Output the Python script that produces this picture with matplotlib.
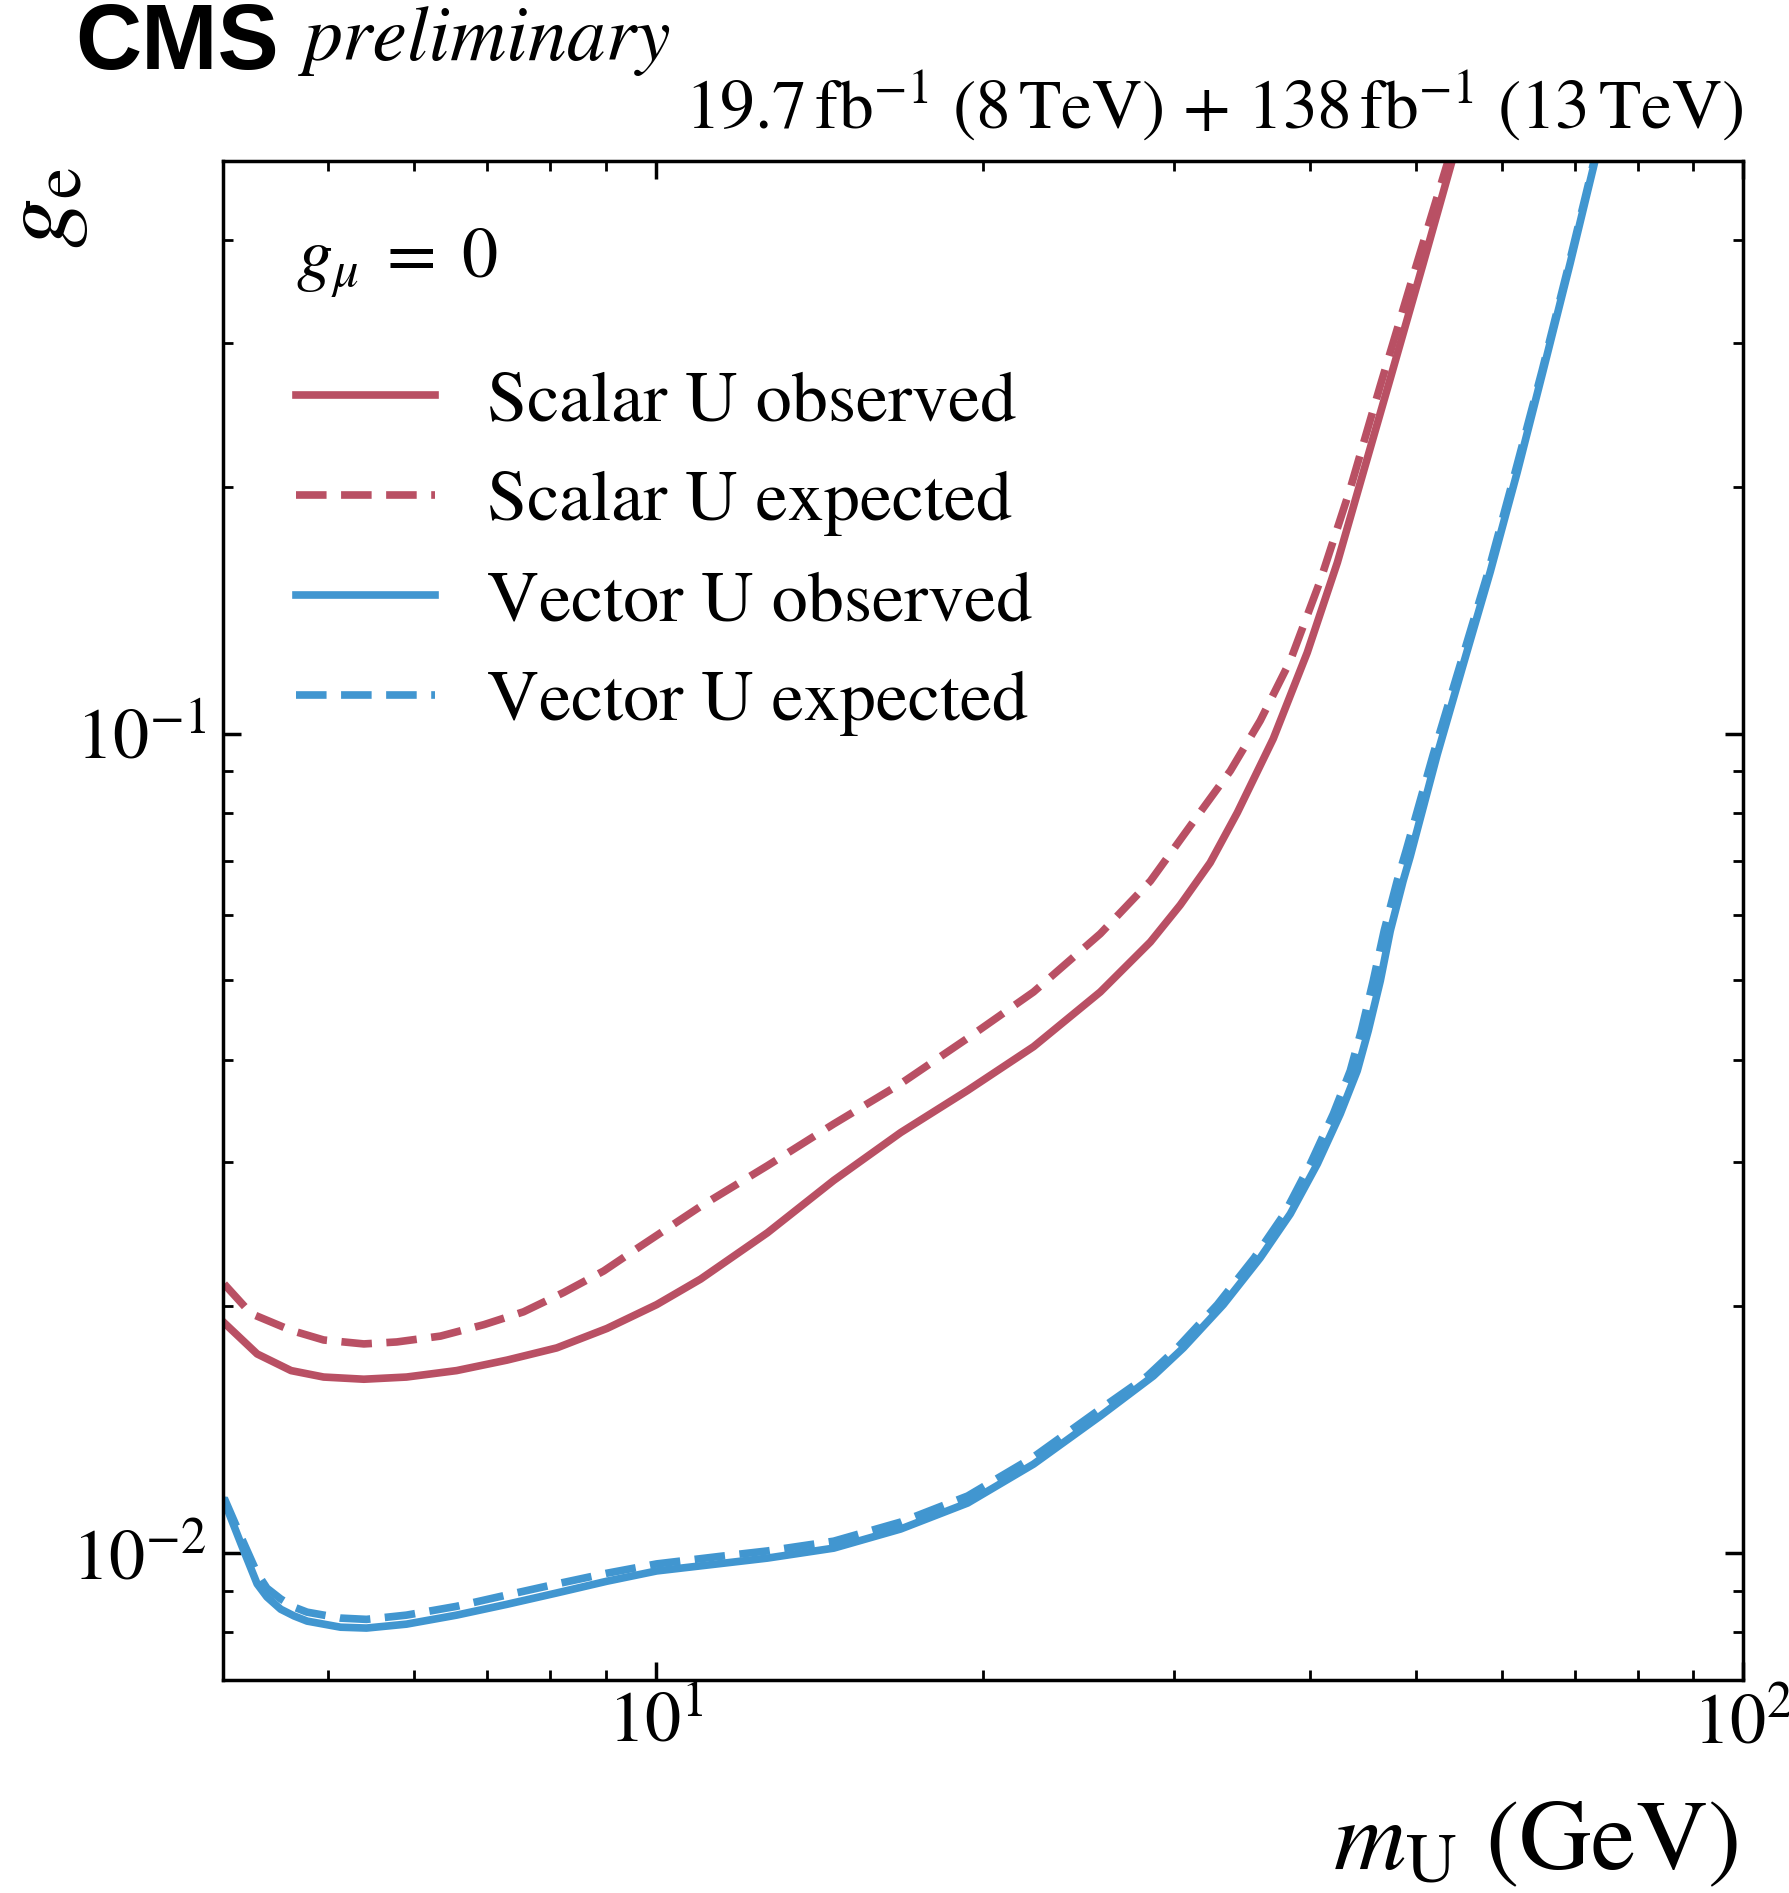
import matplotlib
matplotlib.use("Agg")
import matplotlib.pyplot as plt
from matplotlib.ticker import LogLocator, NullFormatter

plt.rcParams['font.family'] = ['STIXGeneral', 'DejaVu Serif']
plt.rcParams['mathtext.fontset'] = 'stix'

# ---------------- data ----------------
scalar_obs_m = [4.01, 4.30, 4.62, 4.95, 5.39, 5.90, 6.56, 7.30, 8.11, 9.02, 10.02,
                11.0, 12.67, 14.58, 16.80, 19.36, 22.26, 25.64, 28.51, 30.37, 32.36,
                34.27, 36.98, 39.74, 42.36, 44.74, 47.38, 50.80, 54.02]
scalar_obs_g = [0.0191, 0.0175, 0.0167, 0.0164, 0.0163, 0.0164, 0.0167, 0.0172, 0.0178,
                0.0188, 0.0201, 0.0216, 0.0246, 0.0285, 0.0326, 0.0367, 0.0415, 0.0484,
                0.0557, 0.0618, 0.0696, 0.0801, 0.0986, 0.1256, 0.1618, 0.2083, 0.2713,
                0.3749, 0.5008]

scalar_exp_m = [4.01, 4.245, 4.62, 4.95, 5.39, 5.78, 6.34, 6.95, 7.56, 8.23, 8.96, 9.55,
                11.0, 12.67, 14.58, 16.80, 19.36, 22.26, 25.64, 28.51, 31.70, 33.77,
                35.97, 38.34, 40.85, 43.53, 46.39, 49.74, 53.57]
scalar_exp_g = [0.0213, 0.0196, 0.0187, 0.0182, 0.0180, 0.0181, 0.0184, 0.0190, 0.0197,
                0.0208, 0.0221, 0.0234, 0.0265, 0.0297, 0.0334, 0.0374, 0.0425, 0.0484,
                0.0570, 0.0661, 0.0803, 0.0901, 0.1037, 0.1228, 0.1537, 0.1991, 0.2660,
                0.3623, 0.5008]

vector_obs_m = [4.01, 4.156, 4.30, 4.39, 4.52, 4.65, 4.78, 5.13, 5.42, 5.90, 6.56, 7.30,
                8.11, 9.02, 10.02, 11.55, 12.67, 14.58, 16.80, 19.36, 22.26, 25.64, 28.69,
                30.57, 33.27, 35.97, 38.34, 40.60, 42.62, 44.18, 45.22, 46.39, 47.38,
                48.69, 49.42, 52.33, 55.29, 58.55, 61.98, 65.49, 69.34, 73.11]
vector_obs_g = [0.01157, 0.01026, 0.00917, 0.00884, 0.00854, 0.00838, 0.00826, 0.00812,
                0.00810, 0.00819, 0.00840, 0.00866, 0.00894, 0.00924, 0.00951, 0.00972,
                0.00986, 0.01014, 0.01070, 0.01151, 0.01284, 0.01470, 0.01645, 0.0178,
                0.0201, 0.02292, 0.02594, 0.02985, 0.03436, 0.03878, 0.04339, 0.04993,
                0.05747, 0.06614, 0.0708, 0.0943, 0.1214, 0.1576, 0.2083, 0.2774, 0.3749,
                0.5008]

vector_exp_m = [4.01, 4.156, 4.30, 4.39, 4.52, 4.65, 4.78, 5.13, 5.42, 5.90, 6.56, 7.30,
                8.11, 9.02, 10.02, 11.55, 12.67, 14.58, 16.80, 19.36, 22.26, 25.64, 28.33,
                30.18, 32.85, 35.52, 37.86, 40.0, 42.0, 43.53, 44.56, 45.70, 46.77, 48.08,
                49.00, 51.89, 54.95, 58.30, 61.71, 65.35, 69.20, 72.97]
vector_exp_g = [0.01167, 0.01046, 0.00945, 0.00906, 0.00879, 0.00859, 0.00847, 0.00833,
                0.00830, 0.00840, 0.00861, 0.00889, 0.00917, 0.00945, 0.00970, 0.00992,
                0.01006, 0.01034, 0.01091, 0.01174, 0.0131, 0.01499, 0.01645, 0.0178,
                0.0201, 0.02292, 0.02594, 0.02985, 0.03436, 0.03878, 0.04339, 0.04993,
                0.05747, 0.06614, 0.0720, 0.0943, 0.1214, 0.1576, 0.2083, 0.2774, 0.3749,
                0.5008]

labels = ["Scalar U observed", "Scalar U expected", "Vector U observed", "Vector U expected"]
legend_title = r"$g_\mu\;=\;0$"
lumi_text = r"19.7$\,$fb$^{-1}$ (8$\,$TeV) $+$ 138$\,$fb$^{-1}$ (13$\,$TeV)"

RED = "#b95064"
BLUE = "#4196d0"

# ---------------- figure ----------------
W, H = 1789, 1893
fig = plt.figure(figsize=(W / 100, H / 100), dpi=100)
ax = fig.add_axes([223 / W, 1 - 1680 / H, 1520 / W, 1519 / H])

lw = 5.5
dash = (4.0, 1.9)
ax.plot(scalar_obs_m, scalar_obs_g, color=RED, lw=lw, label=labels[0])
ax.plot(scalar_exp_m, scalar_exp_g, color=RED, lw=lw, dashes=dash, label=labels[1])
ax.plot(vector_obs_m, vector_obs_g, color=BLUE, lw=lw, label=labels[2])
ax.plot(vector_exp_m, vector_exp_g, color=BLUE, lw=lw, dashes=dash, label=labels[3])

ax.set_xscale("log")
ax.set_yscale("log")
ax.set_xlim(4, 100)
ax.set_ylim(0.007, 0.5)

for axis in (ax.xaxis, ax.yaxis):
    axis.set_major_locator(LogLocator(base=10))
    axis.set_minor_locator(LogLocator(base=10, subs=range(2, 10)))
    axis.set_minor_formatter(NullFormatter())

for sp in ax.spines.values():
    sp.set_linewidth(2.5)

ax.tick_params(which="both", direction="in", top=True, right=True)
ax.tick_params(which="major", length=13, width=2.5, labelsize=52)
ax.tick_params(axis="y", which="major", pad=12)
ax.tick_params(axis="x", which="major", pad=8)
ax.tick_params(which="minor", length=7, width=2.0)

# axis labels
ax.set_xlabel(r"$m_\mathrm{U}$ (GeV)", fontsize=72)
ax.xaxis.label.set(ha="right", va="baseline")
ax.xaxis.set_label_coords((1738 - 223) / 1520, (1680 - 1869) / 1519)

ax.set_ylabel(r"$g_\mathrm{e}$", fontsize=72)
ax.yaxis.label.set(ha="right", va="baseline", rotation=90, rotation_mode="anchor")
ax.yaxis.set_label_coords((68 - 223) / 1520, (1680 - 166) / 1519)

# legend
ax.text((296 - 223) / 1520, (1680 - 278) / 1519, legend_title, transform=ax.transAxes,
        fontsize=52, ha="left", va="baseline")
leg = ax.legend(loc="upper left", bbox_to_anchor=((296 - 223) / 1520, (1680 - 370) / 1519),
                frameon=False, fontsize=52, borderpad=0, borderaxespad=0,
                handlelength=1.93, handletextpad=0.71, labelspacing=0.46)

# header texts
fig.text(75 / W, 1 - 69 / H, "CMS", fontsize=66, fontweight="bold",
         family=["Liberation Sans", "DejaVu Sans"], ha="left", va="baseline")
fig.text(304 / W, 1 - 60 / H, "preliminary", fontsize=56, style="italic",
         ha="left", va="baseline")
fig.text(1743 / W, 1 - 129 / H, lumi_text, fontsize=50, ha="right", va="baseline")

fig.savefig("out.png", dpi=100)
